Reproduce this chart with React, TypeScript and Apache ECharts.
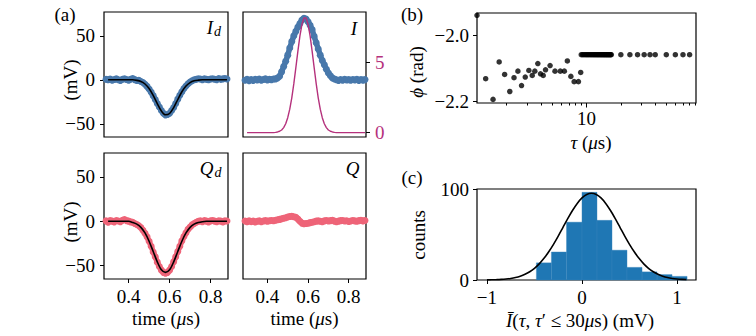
import React, { useEffect, useRef } from 'react';
import * as echarts from 'echarts';

// ---------- data ----------
const TIME = [0.29, 0.30, 0.31, 0.32, 0.33, 0.34, 0.35, 0.36, 0.37, 0.38, 0.39, 0.40, 0.41, 0.42, 0.43, 0.44, 0.45, 0.46, 0.47, 0.48, 0.49, 0.50, 0.51, 0.52, 0.53, 0.54, 0.55, 0.56, 0.57, 0.58, 0.59, 0.60, 0.61, 0.62, 0.63, 0.64, 0.65, 0.66, 0.67, 0.68, 0.69, 0.70, 0.71, 0.72, 0.73, 0.74, 0.75, 0.76, 0.77, 0.78, 0.79, 0.80, 0.81, 0.82, 0.83, 0.84, 0.85, 0.86, 0.87, 0.88];
const ID_DATA = [0.5, 0, 0.8, -0.5, 0.3, 1.0, 0, -0.8, 0.5, 1.2, 0.3, -0.5, 0.6, 1.5, 0.2, -0.8, -0.5, -2.0, -3.0, -5.0, -7.5, -10.5, -14, -18, -22.5, -27, -31, -35, -38, -40, -39.5, -38, -35, -31.5, -27, -22, -17.5, -13.5, -10, -7, -4.5, -2.5, -1, 0, 0.5, 1.2, 0.8, 0.2, 1, 0.5, 0, 0.8, 1.2, 0.6, 0.1, 1.4, 0.5, 1.0, 1.5, 0.8];
const I_DATA = [-0.5, 0.5, -1, 0.3, -0.8, 0.6, -0.2, 0.8, -0.5, 0.4, 1.0, -0.3, 0.5, 0.2, 0.8, 1.0, 2.0, 4, 9, 15, 21, 28, 36, 43.5, 50, 55, 60, 64, 68, 70, 69, 66, 62, 57, 49.5, 42, 35, 28, 22, 17, 12, 7.6, 4.5, 2, 0.8, 0, -0.8, 0.3, -0.5, 0.6, -0.3, 0.2, -0.6, 0.4, -0.2, 0.5, -0.7, 0.3, -0.4, 0.2];
const QD_DATA = [0.5, -1.0, 0.8, 0.2, -0.8, 1.0, 0.3, -0.5, 1.2, 2.0, 0.8, 0.2, -0.6, -1.0, -2.5, -3.5, -5, -7, -10, -13.5, -17.5, -22.5, -28, -34.5, -40, -46, -51, -55, -57.5, -58.5, -57.5, -55, -51, -45.5, -40, -34, -28, -22, -17, -13, -9, -6.5, -4, -2.5, -1, 0, 0.5, -0.5, 0.8, 0.2, -0.6, 0.5, 1.0, 0.2, -0.5, 0.6, 0.2, -0.8, 0.5, 0.3];
const Q_DATA = [0.3, -0.5, 0.5, -0.3, 0.2, -0.8, 0.0, 0.5, -0.4, 0.3, 0.8, 0.2, 0.6, 1.0, 0.6, 1.2, 1.8, 2.2, 2.8, 3.5, 4.0, 4.8, 5.5, 5.8, 5.2, 4.5, 2.5, 0.0, -2.0, -2.8, -2.5, -2.2, -1.5, -1.0, -0.5, 0.2, 0.5, 0.0, -0.5, 0.5, 1.0, 0.3, 0.8, 1.2, 0.2, -0.4, 0.2, 0.8, 1.0, 0.3, 0.6, -0.2, 0.4, 1.0, 0.5, 0.0, 0.8, 1.2, 0.5, 1.0];
const ENV_TIME = [0.30, 0.31, 0.32, 0.33, 0.34, 0.35, 0.36, 0.37, 0.38, 0.39, 0.40, 0.41, 0.42, 0.43, 0.44, 0.45, 0.46, 0.47, 0.48, 0.49, 0.50, 0.51, 0.52, 0.53, 0.54, 0.55, 0.56, 0.57, 0.58, 0.59, 0.60, 0.61, 0.62, 0.63, 0.64, 0.65, 0.66, 0.67, 0.68, 0.69, 0.70, 0.71, 0.72, 0.73, 0.74, 0.75, 0.76, 0.77, 0.78, 0.79, 0.80, 0.81, 0.82, 0.83, 0.84, 0.85, 0.86, 0.87, 0.88];
const I_ENV = [0, 0, 0, 0, 0, 0, 0, 0, 0, 0, 0, 0, 0, 0, 0.02, 0.05, 0.10, 0.19, 0.36, 0.64, 1.07, 1.68, 2.49, 3.50, 4.65, 5.83, 6.91, 7.74, 8.19, 8.19, 7.74, 6.91, 5.83, 4.65, 3.50, 2.49, 1.68, 1.07, 0.64, 0.36, 0.19, 0.10, 0.05, 0.02, 0, 0, 0, 0, 0, 0, 0, 0, 0, 0, 0, 0, 0, 0, 0];
const FIT_TIME = [0.30, 0.32, 0.34, 0.36, 0.38, 0.40, 0.42, 0.44, 0.46, 0.48, 0.50, 0.52, 0.54, 0.56, 0.58, 0.60, 0.62, 0.64, 0.66, 0.68, 0.70, 0.72, 0.74, 0.76, 0.78, 0.80, 0.82, 0.84, 0.86, 0.88];
const ID_FIT = [0, 0, 0, 0, 0, 0, 0, -0.7, -2.0, -4.8, -10.0, -17.8, -27.1, -35.5, -39.8, -38.3, -31.6, -22.4, -13.6, -7.1, -3.2, -1.2, -0.4, 0, 0, 0, 0, 0, 0, 0];
const QD_FIT = [0, 0, 0, 0, 0, 0, -1.3, -3.2, -6.8, -13.1, -22.4, -34.0, -45.7, -54.7, -57.5, -54.7, -45.7, -34.0, -22.4, -13.1, -6.8, -3.2, -1.3, -0.4, 0, 0, 0, 0, 0, 0];

const TAU = [1.1, 1.31, 1.52, 1.72, 1.92, 2.13, 2.32, 2.51, 2.70, 2.91, 3.13, 3.35, 3.53, 3.75, 3.96, 4.18, 4.38, 4.8, 5.3, 5.9, 6.4, 6.8, 7.3, 7.8, 8.5, 8.9,
  9.0, 9.25, 9.5, 9.75, 10.0, 10.25, 10.5, 10.75, 11.0, 11.25, 11.5, 11.75, 12.0, 12.25, 12.5, 12.75, 13.0, 13.25, 13.5, 13.75, 14.0, 14.25, 14.5, 14.75, 15.0, 15.25, 15.5, 15.75, 16.0, 16.25, 16.5,
  20, 24, 28, 32, 36, 40, 50, 60, 70, 80];
const PHI = [-1.938, -2.131, -2.194, -2.080, -2.118, -2.170, -2.128, -2.108, -2.152, -2.126, -2.106, -2.121, -2.108, -2.085, -2.116, -2.121, -2.104, -2.091, -2.108, -2.108, -2.108, -2.077, -2.124, -2.140, -2.140, -2.112,
  -2.058, -2.058, -2.058, -2.058, -2.058, -2.058, -2.058, -2.058, -2.058, -2.058, -2.058, -2.058, -2.058, -2.058, -2.058, -2.058, -2.058, -2.058, -2.058, -2.058, -2.058, -2.058, -2.058, -2.058, -2.058, -2.058, -2.058, -2.058, -2.058, -2.058, -2.058,
  -2.058, -2.058, -2.058, -2.058, -2.058, -2.058, -2.058, -2.058, -2.058, -2.058];

const HIST_EDGES = [-0.48, -0.322, -0.163, 0.0, 0.158, 0.316, 0.474, 0.632, 0.79, 0.948, 1.106];
const HIST_COUNTS = [19, 31, 64, 97, 66, 33, 14, 9, 6, 4];
const GAUSS_X = [-1.0, -0.95, -0.9, -0.85, -0.8, -0.75, -0.7, -0.65, -0.6, -0.55, -0.5, -0.45, -0.4, -0.35, -0.3, -0.25, -0.2, -0.15, -0.1, -0.05, 0.0, 0.05, 0.1, 0.15, 0.2, 0.25, 0.3, 0.35, 0.4, 0.45, 0.5, 0.55, 0.6, 0.65, 0.7, 0.75, 0.8, 0.85, 0.9, 0.95, 1.0, 1.05, 1.1];
const GAUSS_Y = [0.12, 0.21, 0.37, 0.64, 1.07, 1.73, 2.74, 4.22, 6.31, 9.18, 12.99, 17.87, 23.94, 31.18, 39.47, 48.6, 58.23, 67.85, 76.87, 84.72, 90.81, 94.67, 96.0, 94.67, 90.81, 84.72, 76.87, 67.85, 58.23, 48.6, 39.47, 31.18, 23.94, 17.87, 12.99, 9.18, 6.31, 4.22, 2.74, 1.73, 1.07, 0.64, 0.37];

// tick labels
const TIME_TICKS = [0.4, 0.6, 0.8];
const MV_TICKS = [-50, 0, 50];
const ENV_TICKS = [0, 5];
const PHI_TICKS = [-2.2, -2.0];
const TAU_MAJOR = [10];
const TAU_MINOR = [2, 3, 4, 5, 6, 7, 8, 9, 20, 30, 40, 50, 60, 70, 80, 90];
const HX_TICKS = [-1, 0, 1];
const COUNT_TICKS = [0, 100];

// ---------- styling ----------
const T_MIN = 0.28, T_MAX = 0.885;
const MV_MIN = -65, MV_MAX = 77;
const ENV_MIN = -0.31, ENV_MAX = 8.62;
const TAU_MIN = 1.1, TAU_MAX = 91;
const PHI_MIN = -2.205, PHI_MAX = -1.931;
const HX_MIN = -1.105, HX_MAX = 1.2;
const HC_MIN = 0, HC_MAX = 100.7;

const BLUE = '#4878ab';
const PINK = '#ee6478';
const MAGENTA = '#b5317c';
const HIST = '#1f77b4';
const FONT = "'Liberation Serif', 'DejaVu Serif', serif";
const FS = 19;
const minus = (s: string) => s.replace('-', '\u2212');

function axis(gridIndex: number, min: number, max: number, extra: any = {}) {
  return {
    type: 'value', gridIndex, min, max,
    axisLine: { show: false, onZero: false },
    splitLine: { show: false },
    axisTick: { show: false },
    axisLabel: { show: false },
    ...extra,
  };
}
function ticks(values: number[], len: number, margin: number, fmt: ((v: number) => string) | null, color = '#000') {
  return {
    axisTick: { show: true, length: len, customValues: values, lineStyle: { color: '#000', width: 1 } },
    axisLabel: fmt
      ? { show: true, customValues: values, margin, formatter: fmt, fontFamily: FONT, fontSize: FS, color }
      : { show: false },
  };
}
function grid(left: number, top: number, width: number, height: number, show = true) {
  return { left, top, width, height, show, borderColor: '#000', borderWidth: 1.2, backgroundColor: 'transparent', containLabel: false };
}
function band(x: number, y: number, xs: number[], ys: number[], color: string) {
  return {
    type: 'line', xAxisIndex: x, yAxisIndex: y, silent: true,
    data: xs.map((t, i) => [t, ys[i]]),
    lineStyle: { color, width: 5.5, cap: 'round', join: 'round' },
    itemStyle: { color, borderWidth: 0 },
    symbol: 'circle', symbolSize: 7, showSymbol: true, z: 2,
  };
}
function curve(x: number, y: number, xs: number[], ys: number[], color: string, width: number, smooth: number) {
  return {
    type: 'line', xAxisIndex: x, yAxisIndex: y, silent: true,
    data: xs.map((t, i) => [t, ys[i]]),
    lineStyle: { color, width }, symbol: 'none', showSymbol: false, smooth, z: 3,
  };
}
const R = { fontFamily: FONT, fontSize: FS, fill: '#000' };
const IT = { fontFamily: FONT, fontSize: FS, fill: '#000', fontStyle: 'italic' };
function txt(x: number, y: number, text: string, style: any = {}, rotation = 0) {
  return {
    type: 'text', x, y, rotation, silent: true,
    style: { text, fontFamily: FONT, fontSize: FS, fill: '#000', align: 'center', verticalAlign: 'middle', ...style },
  };
}

export default function App() {
  const ref = useRef<HTMLDivElement>(null);
  useEffect(() => {
    if (!ref.current) return;
    const chart = echarts.init(ref.current, undefined, { renderer: 'svg' });
    const tauMinL = Math.log10(TAU_MIN), tauMaxL = Math.log10(TAU_MAX);
    chart.setOption({
      animation: false,
      backgroundColor: '#fff',
      grid: [
        grid(104, 12, 124, 125),
        grid(243, 12, 123, 125),
        grid(104, 153, 124, 126),
        grid(243, 153, 123, 126),
        grid(477, 13, 219, 90),
        grid(477, 13, 219, 90, false),
        grid(477, 13, 219, 90, false),
        grid(477, 189, 219, 91),
      ],
      xAxis: [
        axis(0, T_MIN, T_MAX),
        axis(1, T_MIN, T_MAX),
        axis(2, T_MIN, T_MAX, ticks(TIME_TICKS, 4, 8, (v) => v.toFixed(1))),
        axis(3, T_MIN, T_MAX, ticks(TIME_TICKS, 4, 8, (v) => v.toFixed(1))),
        { type: 'log', gridIndex: 4, min: TAU_MIN, max: TAU_MAX, show: false, axisLine: { onZero: false } },
        axis(5, tauMinL, tauMaxL, ticks(TAU_MINOR.map(Math.log10), 2.5, 6, null)),
        axis(6, tauMinL, tauMaxL, ticks(TAU_MAJOR.map(Math.log10), 4.5, 6, (v) => String(Math.round(Math.pow(10, v))))),
        axis(7, HX_MIN, HX_MAX, ticks(HX_TICKS, 4, 8, (v) => minus(String(v)))),
      ],
      yAxis: [
        axis(0, MV_MIN, MV_MAX, ticks(MV_TICKS, 4, 9, (v) => minus(String(v)))),
        axis(1, MV_MIN, MV_MAX),
        axis(1, ENV_MIN, ENV_MAX, { position: 'right', ...ticks(ENV_TICKS, 4, 9, (v) => String(v), MAGENTA) }),
        axis(2, MV_MIN, MV_MAX, ticks(MV_TICKS, 4, 9, (v) => minus(String(v)))),
        axis(3, MV_MIN, MV_MAX),
        axis(4, PHI_MIN, PHI_MAX, ticks(PHI_TICKS, 4, 8, (v) => minus(v.toFixed(1)))),
        axis(5, 0, 1),
        axis(6, 0, 1),
        axis(7, HC_MIN, HC_MAX, ticks(COUNT_TICKS, 4, 8, (v) => String(v))),
      ],
      series: [
        band(0, 0, TIME, ID_DATA, BLUE),
        curve(0, 0, FIT_TIME, ID_FIT, '#000', 1.6, 0.3),
        band(1, 1, TIME, I_DATA, BLUE),
        curve(1, 2, ENV_TIME, I_ENV, MAGENTA, 1.4, 0),
        band(2, 3, TIME, QD_DATA, PINK),
        curve(2, 3, FIT_TIME, QD_FIT, '#000', 1.6, 0.3),
        band(3, 4, TIME, Q_DATA, PINK),
        {
          type: 'scatter', xAxisIndex: 4, yAxisIndex: 5, silent: true,
          data: TAU.map((t, i) => [t, PHI[i]]),
          symbol: 'circle', symbolSize: 5.5, itemStyle: { color: '#000' },
        },
        {
          type: 'custom', xAxisIndex: 7, yAxisIndex: 8, silent: true,
          data: HIST_COUNTS.map((c, i) => [HIST_EDGES[i], HIST_EDGES[i + 1], c]),
          encode: { x: [0, 1], y: 2 },
          renderItem: (params: any, api: any) => {
            const p0 = api.coord([api.value(0), api.value(2)]);
            const p1 = api.coord([api.value(1), 0]);
            return {
              type: 'rect',
              shape: { x: p0[0], y: p0[1], width: p1[0] - p0[0], height: p1[1] - p0[1] },
              style: { fill: HIST, stroke: '#3a86bd', lineWidth: 0.4 },
            };
          },
          z: 2,
        },
        curve(7, 8, GAUSS_X, GAUSS_Y, '#000', 1.6, 0.3),
      ],
      graphic: [
        txt(65, 14, '(a)'),
        txt(412, 14, '(b)'),
        txt(412, 177, '(c)'),
        txt(70, 80, '(mV)', {}, Math.PI / 2),
        txt(70, 222, '(mV)', {}, Math.PI / 2),
        txt(166, 318, '{r|time (}{i|\u03bc}{r|s)}', { rich: { r: R, i: IT } }),
        txt(304.5, 318, '{r|time (}{i|\u03bc}{r|s)}', { rich: { r: R, i: IT } }),
        txt(416, 72, '{i|\u03d5}{r| (rad)}', { rich: { r: R, i: IT } }, Math.PI / 2),
        txt(591, 142, '{i|\u03c4}{r| (}{i|\u03bc}{r|s)}', { rich: { r: R, i: IT } }),
        txt(418, 235, 'counts', {}, Math.PI / 2),
        txt(580, 320, '{i|\u012a}{r|(}{i|\u03c4}{r|, }{i|\u03c4}{r|\u2032 \u2264 30}{i|\u03bc}{r|s) (mV)}', { rich: { r: R, i: IT } }),
        txt(210, 27.5, 'I', { fontStyle: 'italic', fontSize: 19 }),
        txt(217.5, 31.5, 'd', { fontStyle: 'italic', fontSize: 14 }),
        txt(354, 28, 'I', { fontStyle: 'italic', fontSize: 19 }),
        txt(206.5, 168, 'Q', { fontStyle: 'italic', fontSize: 19 }),
        txt(218, 172.5, 'd', { fontStyle: 'italic', fontSize: 14 }),
        txt(352.5, 168, 'Q', { fontStyle: 'italic', fontSize: 19 }),
      ],
    });
    return () => chart.dispose();
  }, []);
  return (
    <div
      ref={ref}
      style={{ position: 'fixed', left: 0, top: 0, width: 756, height: 336, background: '#fff' }}
    />
  );
}
